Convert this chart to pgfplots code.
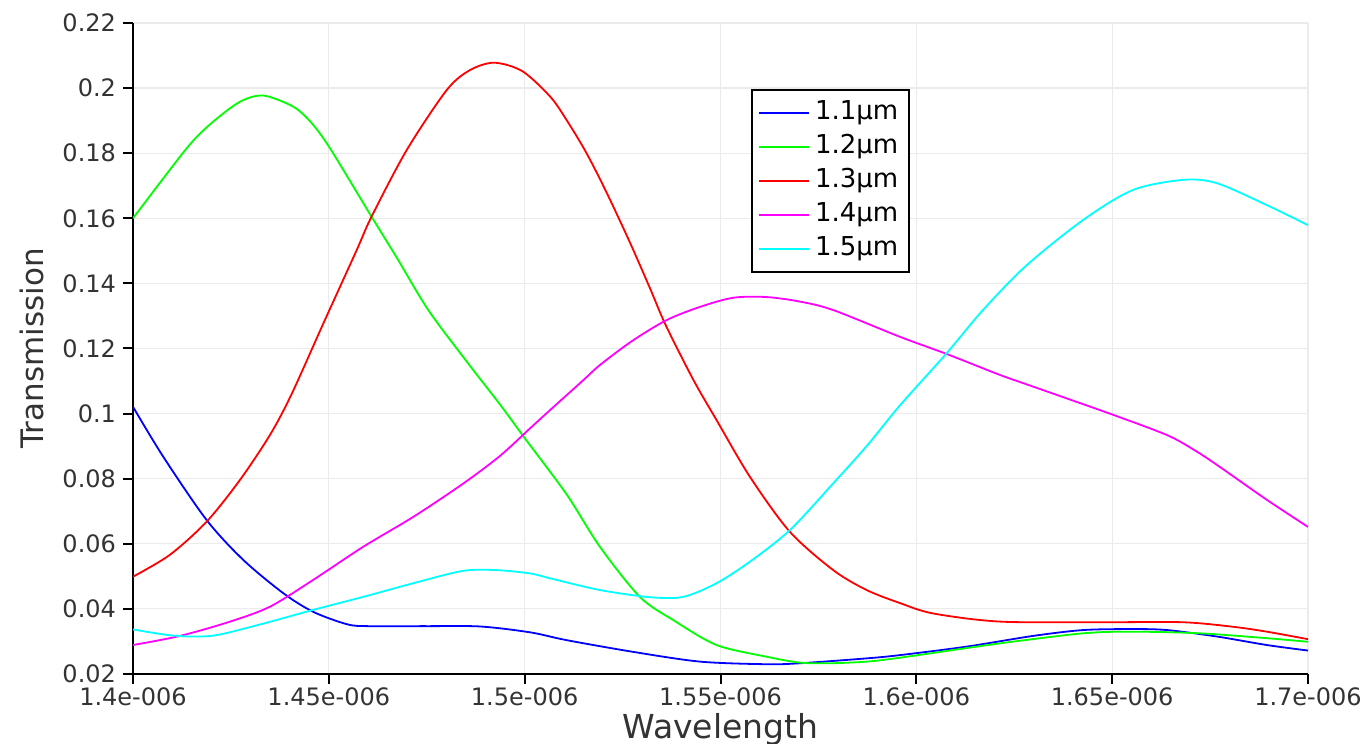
\documentclass[border=0pt]{standalone}
\usepackage{fontspec}
\setmainfont{DejaVu Sans}
\usepackage{pgfplots}
\pgfplotsset{compat=1.18}
\definecolor{gridc}{HTML}{EBEBEB}
\definecolor{tickc}{HTML}{333333}
\begin{document}
\begin{tikzpicture}
\begin{axis}[
  name=ax,
  scale only axis,
  width=587.5pt, height=325.5pt,
  xmin=1400, xmax=1700, ymin=0.02, ymax=0.22,
  axis x line*=bottom, axis y line*=left,
  axis line style={black, line width=1pt},
  tick align=outside, major tick length=5pt,
  tick style={black, line width=1pt},
  xtick={1400,1450,1500,1550,1600,1650,1700},
  xticklabels={1.4e-006,1.45e-006,1.5e-006,1.55e-006,1.6e-006,1.65e-006,1.7e-006},
  ytick={0.02,0.04,0.06,0.08,0.1,0.12,0.14,0.16,0.18,0.2,0.22},
  yticklabels={0.02,0.04,0.06,0.08,0.1,0.12,0.14,0.16,0.18,0.2,0.22},
  /pgf/number format/assume math mode=true,
  ticklabel style={font=\fontsize{12}{14}\selectfont, text=tickc},
  xticklabel style={inner sep=1.5pt},
  grid=major,
  major grid style={gridc, line width=0.6pt},
  xlabel={Wavelength}, ylabel={Transmission},
  every axis x label/.style={at={(axis description cs:0.5,-0.0845)}, anchor=center, inner sep=0pt, font=\fontsize{16.5}{18}\selectfont, text=tickc},
  every axis y label/.style={at={(axis description cs:-0.086,0.5)}, anchor=center, rotate=90, font=\fontsize{15.5}{18}\selectfont, text=tickc},
  legend style={at={(axis description cs:0.526,0.8986)}, anchor=north west,
    draw=black, line width=1pt, inner sep=3pt,
    font=\fontsize{13}{15}\selectfont,
    nodes={inner sep=2.5pt, text height=9pt, text depth=3pt}},
  legend cell align=left,
  legend image code/.code={\draw[#1, line width=1pt] (0pt,0pt) -- (25pt,0pt);},
  every axis plot/.append style={line width=0.9pt, smooth, no markers},
]
\addplot[color={rgb,255:red,0;green,0;blue,255}] coordinates {
(1400,0.1021)(1407.7,0.0868)(1418.8,0.0673)(1428.2,0.0550)(1438.4,0.0448)(1446,0.0391)(1454.6,0.0353)(1460,0.0347)(1475,0.0347)(1488.6,0.0346)(1501.4,0.0328)(1510.7,0.0304)(1527.7,0.0268)(1544.8,0.0238)(1561.8,0.0230)(1570.3,0.0233)(1587.3,0.0248)(1595.8,0.0258)(1612.8,0.0284)(1629.8,0.0317)(1642.6,0.0335)(1655,0.0338)(1664,0.0335)(1676.8,0.0315)(1689.5,0.0289)(1700,0.0272)
};
\addlegendentry{1.1µm}
\addplot[color={rgb,255:red,0;green,255;blue,0}] coordinates {
(1400,0.1600)(1413.7,0.1815)(1420,0.1892)(1427.3,0.1958)(1433.3,0.1977)(1440.9,0.1943)(1445.5,0.1894)(1450.3,0.1815)(1460.9,0.1605)(1467.3,0.1480)(1475.4,0.1318)(1485.2,0.1160)(1493.7,0.1028)(1500,0.0925)(1510.7,0.0752)(1519.2,0.0591)(1529.4,0.0437)(1537.9,0.0366)(1549,0.0289)(1561.8,0.0253)(1570.3,0.0235)(1578,0.0233)(1587.3,0.0238)(1595.8,0.0250)(1621.3,0.0294)(1642.6,0.0325)(1655.3,0.0330)(1672.4,0.0325)(1689.5,0.0310)(1700,0.0299)
};
\addlegendentry{1.2µm}
\addplot[color={rgb,255:red,255;green,0;blue,0}] coordinates {
(1400,0.0499)(1409.4,0.0566)(1418.8,0.0668)(1427.3,0.0796)(1435,0.0935)(1440.5,0.1060)(1448.6,0.1277)(1457.1,0.1502)(1460.9,0.1605)(1469.9,0.1810)(1480.1,0.1994)(1486,0.2055)(1492.2,0.2078)(1499.4,0.2052)(1506.5,0.1974)(1510.7,0.1902)(1515.8,0.1800)(1521,0.1677)(1526.9,0.1525)(1532,0.1385)(1536,0.1272)(1543.1,0.1103)(1549,0.0980)(1557.5,0.0806)(1567.7,0.0637)(1578.8,0.0519)(1587.3,0.0458)(1595.8,0.0418)(1604.3,0.0386)(1621.3,0.0361)(1646.9,0.0359)(1668,0.0359)(1680.9,0.0345)(1689.5,0.0330)(1700,0.0307)
};
\addlegendentry{1.3µm}
\addplot[color={rgb,255:red,255;green,0;blue,255}] coordinates {
(1400,0.0289)(1412,0.0317)(1424.8,0.0361)(1435,0.0407)(1446,0.0489)(1458.8,0.0591)(1471.6,0.0683)(1484.3,0.0785)(1493.7,0.0870)(1501.4,0.0955)(1506.5,0.1011)(1515,0.1103)(1519.2,0.1149)(1527.3,0.1222)(1536.2,0.1287)(1544.8,0.1328)(1553.3,0.1356)(1561.8,0.1358)(1570.3,0.1344)(1578.8,0.1318)(1595.8,0.1236)(1608,0.1182)(1621.3,0.1119)(1629.8,0.1083)(1650.3,0.0996)(1664,0.0934)(1670.7,0.0890)(1676.8,0.0842)(1689.5,0.0735)(1700,0.0652)
};
\addlegendentry{1.4µm}
\addplot[color={rgb,255:red,0;green,255;blue,255}] coordinates {
(1400,0.0337)(1410.3,0.0318)(1420.5,0.0318)(1433.3,0.0355)(1446,0.0397)(1458.8,0.0437)(1471.6,0.0479)(1484.3,0.0517)(1493,0.0519)(1501.4,0.0509)(1506.5,0.0494)(1519.2,0.0458)(1532,0.0436)(1540.5,0.0437)(1549,0.0479)(1557.5,0.0545)(1567.7,0.0642)(1578.8,0.0786)(1587.3,0.0900)(1595.8,0.1025)(1607.7,0.1185)(1617,0.1318)(1628.1,0.1455)(1642.6,0.1595)(1655.3,0.1687)(1668.1,0.1718)(1676.7,0.1708)(1689.4,0.1641)(1700,0.1579)
};
\addlegendentry{1.5µm}
\end{axis}
\pgfresetboundingbox
\path ([xshift=-66.5pt,yshift=-35pt]ax.south west) rectangle ([xshift=26pt,yshift=11.5pt]ax.north east);
\end{tikzpicture}
\end{document}
